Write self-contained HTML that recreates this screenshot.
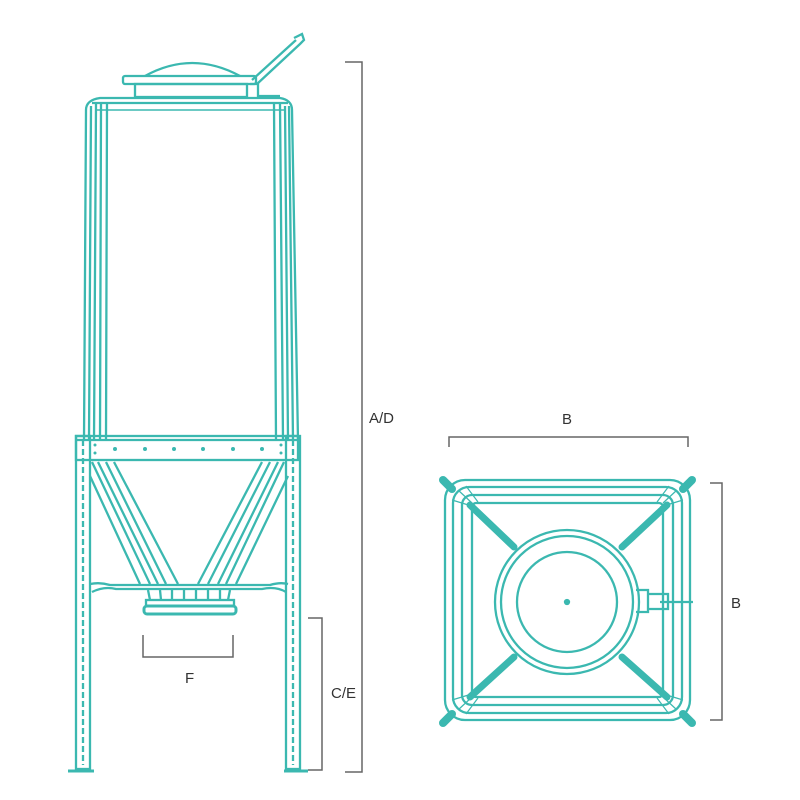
<!DOCTYPE html>
<html><head><style>html,body{margin:0;padding:0;background:#fff}svg{display:block}</style></head>
<body>
<svg width="800" height="800" viewBox="0 0 800 800" xmlns="http://www.w3.org/2000/svg" font-family="Liberation Sans, sans-serif">
<g fill="none" stroke="#3bb8b0" stroke-width="2.3">
  <!-- lid -->
  <path d="M145 76 Q192 50 240 76"/>
  <rect x="123" y="76" width="133" height="8" rx="2"/>
  <rect x="135" y="84" width="112" height="13"/>
  <path d="M250 84 L258 84 L258 96 L280 96"/>
  <path d="M252 80 L296 40 M257 84 L300 44 M294 38 L302 34 L304 40 L300 44"/>
  <!-- body -->
  <path d="M84 440 L86 110 Q86 100 100 98 L280 98 Q292 100 292 110 L298 440"/>
  <path d="M89 440 L91 106 M94 440 L96 104 M100 440 L101 104 M106 440 L107 104"/>
  <path d="M293 440 L289 106 M288 440 L285 106 M283 440 L280 104 M276 440 L274 104"/>
  <line x1="92" y1="103" x2="288" y2="103"/>
  <line x1="95" y1="110" x2="285" y2="110" stroke-width="1.5"/>
  <!-- band -->
  <rect x="76" y="436" width="222" height="24"/>
  <line x1="76" y1="440" x2="298" y2="440"/>
  <g fill="#3bb8b0" stroke="none">
    <circle cx="115" cy="449" r="2"/><circle cx="145" cy="449" r="2"/><circle cx="174" cy="449" r="2"/><circle cx="203" cy="449" r="2"/><circle cx="233" cy="449" r="2"/><circle cx="262" cy="449" r="2"/>
    <circle cx="95" cy="445" r="1.5"/><circle cx="95" cy="453" r="1.5"/><circle cx="281" cy="445" r="1.5"/><circle cx="281" cy="453" r="1.5"/>
  </g>
  <!-- legs -->
  <rect x="76" y="436" width="14" height="333"/>
  <line x1="83" y1="440" x2="83" y2="765" stroke-dasharray="6 3"/>
  <rect x="286" y="436" width="14" height="333"/>
  <line x1="293" y1="440" x2="293" y2="765" stroke-dasharray="6 3"/>
  <line x1="68" y1="771" x2="94" y2="771" stroke-width="3"/>
  <line x1="284" y1="771" x2="308" y2="771" stroke-width="3"/>
  <!-- V braces -->
  <path d="M92 462 L150 584 M98 462 L158 584 M106 462 L166 584 M114 462 L178 584 M90 476 L140 584"/>
  <path d="M284 462 L226 584 M278 462 L218 584 M270 462 L208 584 M262 462 L198 584 M288 476 L236 584"/>
  <!-- crossbar -->
  <path d="M90 584 Q100 582 110 585 L270 585 Q280 582 288 584"/>
  <path d="M92 592 Q104 586 116 589 L262 589 Q276 586 286 592"/>
  <!-- outlet -->
  <path d="M148 590 L150 600 M160 590 L161 600 M172 590 L172 600 M184 590 L184 600 M196 590 L196 600 M208 590 L208 600 M220 590 L220 600 M230 590 L228 600"/>
  <rect x="146" y="600" width="88" height="6"/>
  <rect x="144" y="606" width="92" height="8" rx="3" stroke-width="3"/>
  <!-- top view -->
  <rect x="445" y="480" width="245" height="240" rx="20"/>
  <rect x="453" y="487" width="229" height="226" rx="16"/>
  <rect x="462" y="495" width="211" height="210" rx="10"/>
  <rect x="472" y="503" width="191" height="194" rx="4"/>
  <g stroke-width="7" stroke-linecap="round">
    <line x1="470" y1="505" x2="514" y2="547"/>
    <line x1="667" y1="505" x2="622" y2="547"/>
    <line x1="470" y1="697" x2="514" y2="657"/>
    <line x1="667" y1="697" x2="622" y2="657"/>
  </g>
  <g stroke-width="1.2">
    <path d="M452 500 L475 507 M458 490 L472 503 M466 486 L478 502"/>
    <path d="M683 500 L660 507 M677 490 L663 503 M669 486 L657 502"/>
    <path d="M452 700 L475 693 M458 710 L472 697 M466 714 L478 698"/>
    <path d="M683 700 L660 693 M677 710 L663 697 M669 714 L657 698"/>
  </g>
  <g stroke-width="8" stroke-linecap="round">
    <line x1="443" y1="480" x2="452" y2="489"/>
    <line x1="692" y1="480" x2="683" y2="489"/>
    <line x1="443" y1="723" x2="452" y2="714"/>
    <line x1="692" y1="723" x2="683" y2="714"/>
  </g>
  <circle cx="567" cy="602" r="72" fill="#fff"/>
  <circle cx="567" cy="602" r="66"/>
  <circle cx="567" cy="602" r="50"/>
  <circle cx="567" cy="602" r="2" fill="#3bb8b0"/>
  <path d="M636 590 L648 590 L648 612 L636 612 M648 594 L668 594 L668 609 L648 609 M660 602 L693 602"/>
</g>
<!-- dimension lines -->
<g fill="none" stroke="#666" stroke-width="1.5">
  <path d="M345 62 L362 62 L362 772 L345 772"/>
  <path d="M308 618 L322 618 L322 770 L308 770"/>
  <path d="M143 635 L143 657 L233 657 L233 635"/>
  <path d="M449 447 L449 437 L688 437 L688 447"/>
  <path d="M710 483 L722 483 L722 720 L710 720"/>
</g>
<g fill="#333" font-size="15">
  <text x="369" y="423">A/D</text>
  <text x="331" y="698">C/E</text>
  <text x="185" y="683">F</text>
  <text x="562" y="424">B</text>
  <text x="731" y="608">B</text>
</g>
</svg>
</body></html>
